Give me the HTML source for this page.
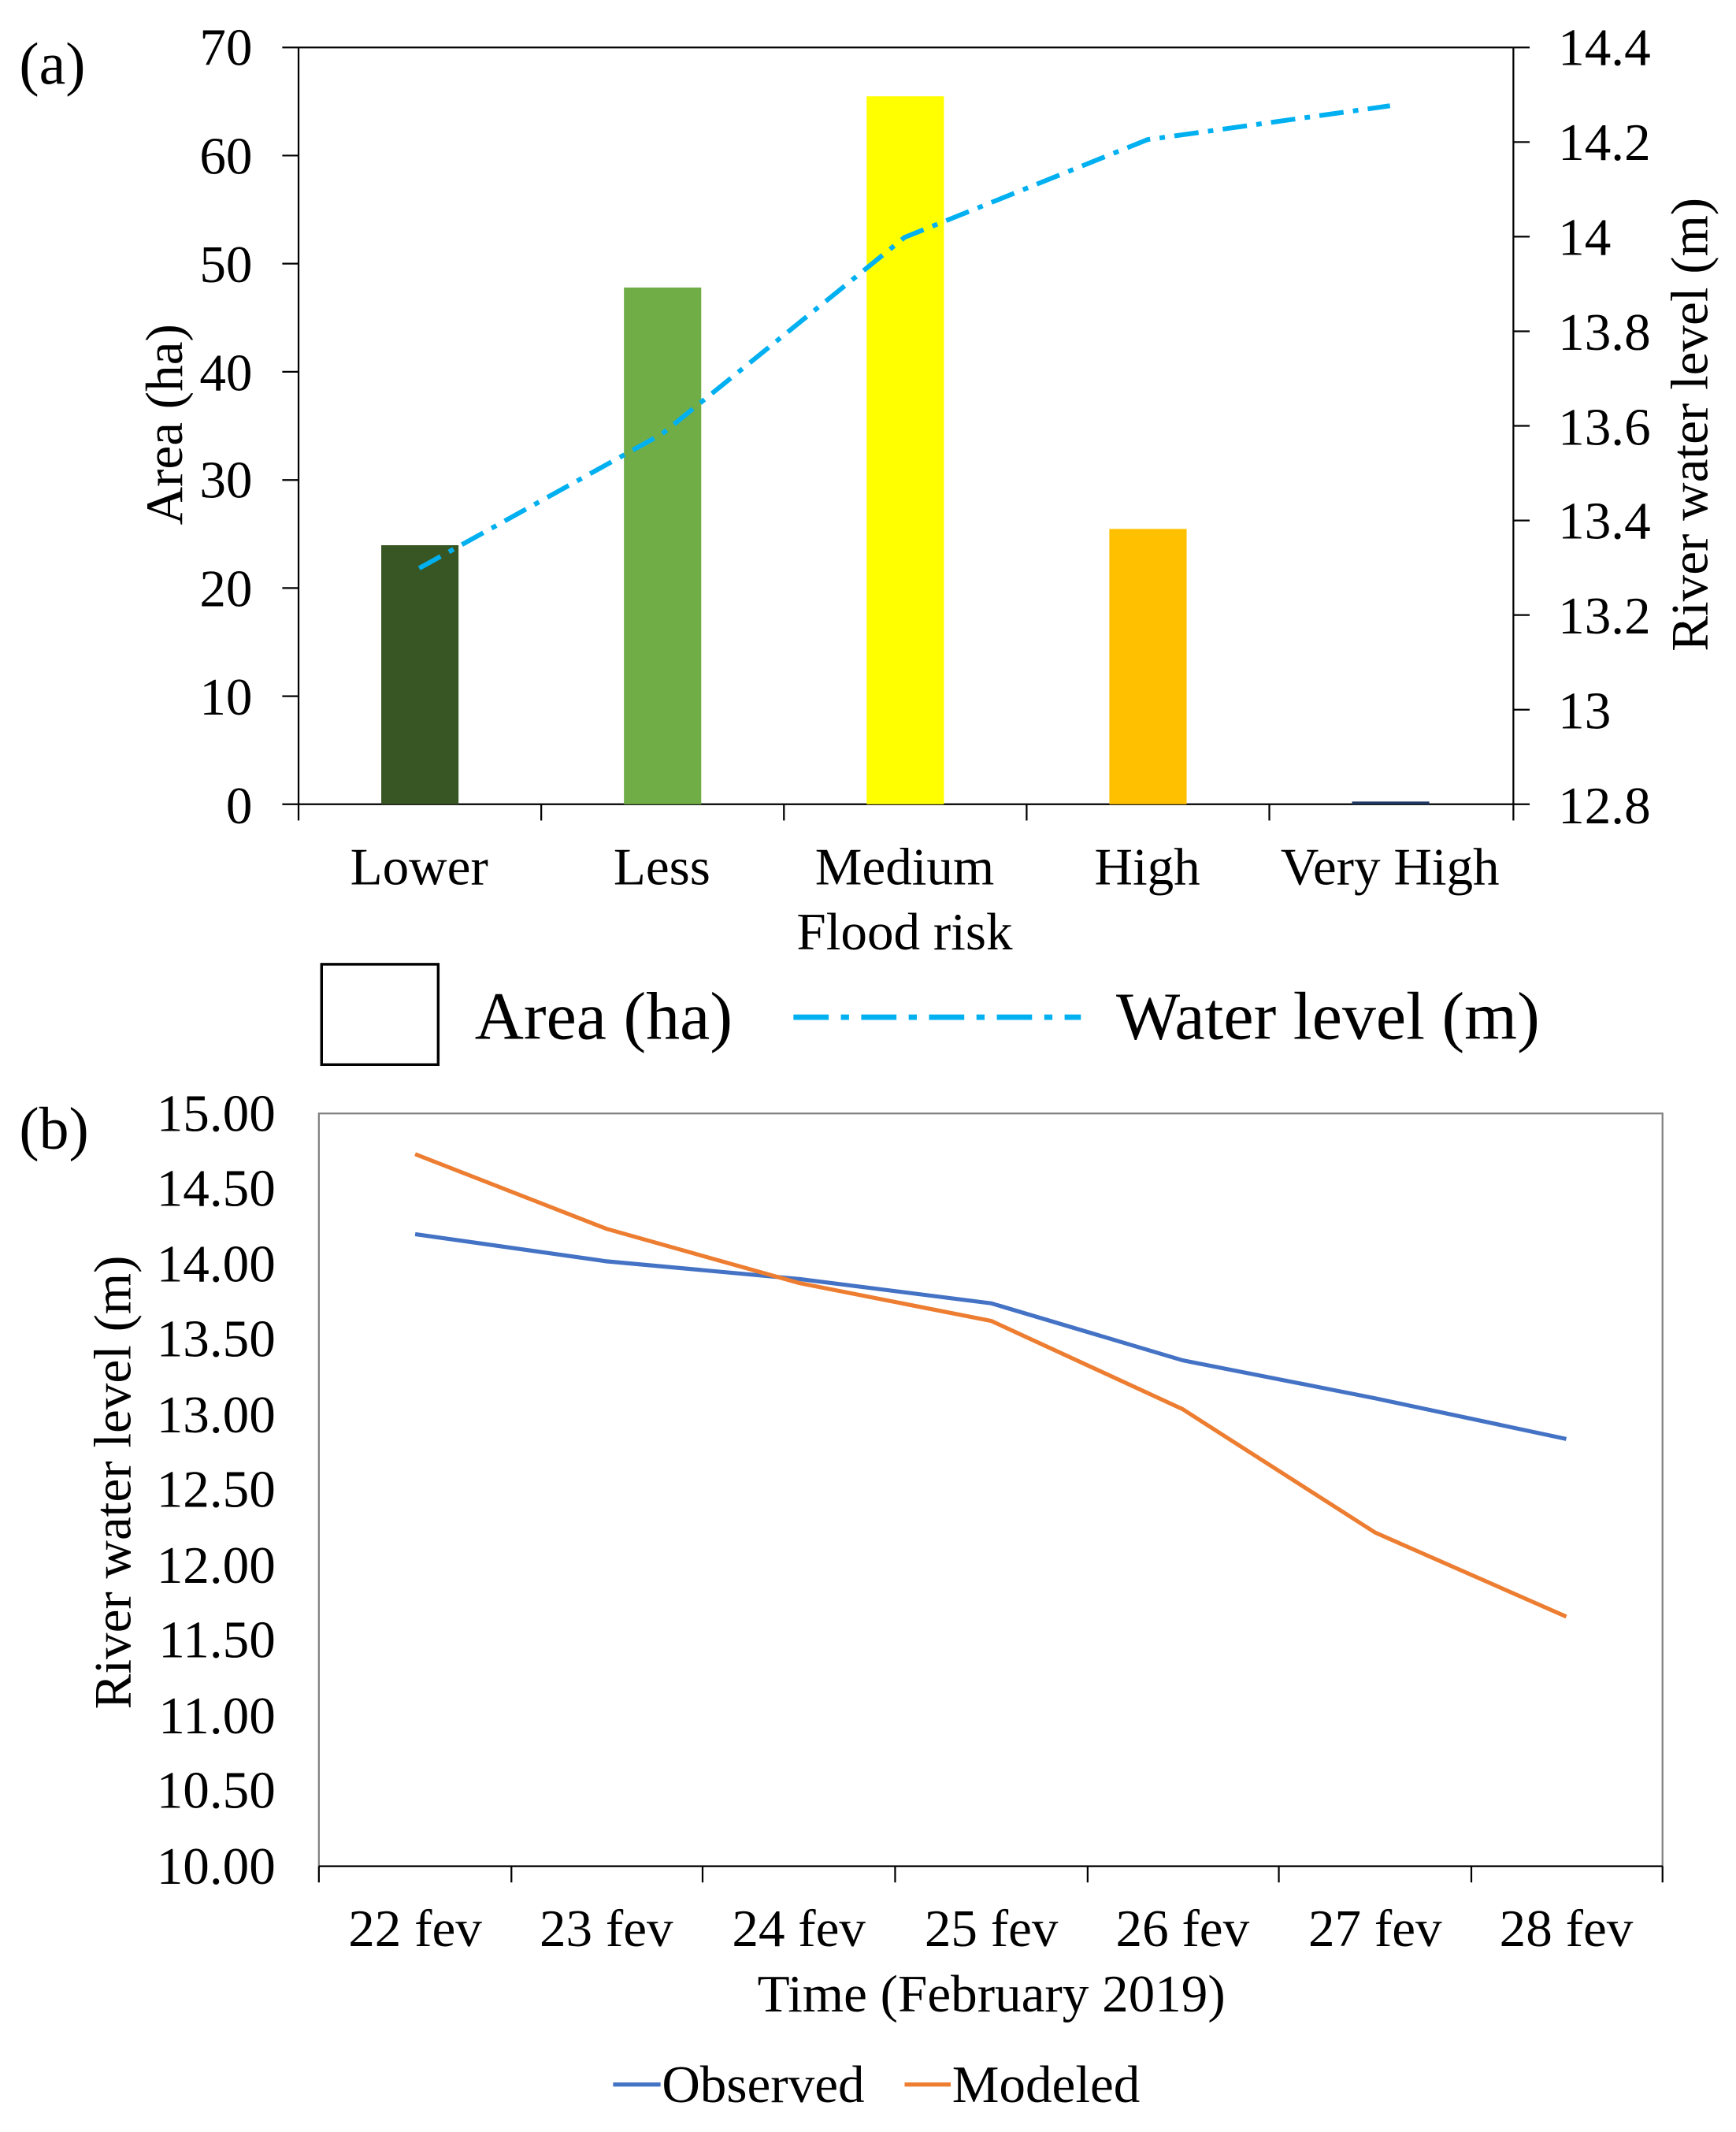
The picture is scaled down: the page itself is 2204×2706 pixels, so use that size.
<!DOCTYPE html>
<html><head><meta charset="utf-8"><style>
html,body{margin:0;padding:0;background:#fff;}
svg{display:block;}
text{font-family:"Liberation Serif",serif;fill:#000;}
</style></head><body>
<svg width="2204" height="2706" viewBox="0 0 1280 1572" xmlns="http://www.w3.org/2000/svg">
<rect width="1280" height="1572" fill="#fff"/>
<!-- Panel a -->
<text x="14" y="62" font-size="44">(a)</text>
<g stroke="#000" stroke-width="1.3" fill="none">
<line x1="220" y1="35" x2="1116" y2="35"/>
<line x1="220" y1="35" x2="220" y2="593"/>
<line x1="1116" y1="35" x2="1116" y2="593"/>
<line x1="208" y1="593" x2="1128" y2="593"/>
<line x1="208" y1="35" x2="220" y2="35"/><line x1="208" y1="114.7" x2="220" y2="114.7"/>
<line x1="208" y1="194.4" x2="220" y2="194.4"/><line x1="208" y1="274.1" x2="220" y2="274.1"/>
<line x1="208" y1="353.9" x2="220" y2="353.9"/><line x1="208" y1="433.6" x2="220" y2="433.6"/>
<line x1="208" y1="513.3" x2="220" y2="513.3"/>
<line x1="1116" y1="35" x2="1128" y2="35"/><line x1="1116" y1="104.75" x2="1128" y2="104.75"/>
<line x1="1116" y1="174.5" x2="1128" y2="174.5"/><line x1="1116" y1="244.25" x2="1128" y2="244.25"/>
<line x1="1116" y1="314" x2="1128" y2="314"/><line x1="1116" y1="383.75" x2="1128" y2="383.75"/>
<line x1="1116" y1="453.5" x2="1128" y2="453.5"/><line x1="1116" y1="523.25" x2="1128" y2="523.25"/>
<line x1="399" y1="593" x2="399" y2="605"/><line x1="578" y1="593" x2="578" y2="605"/>
<line x1="757" y1="593" x2="757" y2="605"/><line x1="936" y1="593" x2="936" y2="605"/>
<line x1="220" y1="593" x2="220" y2="605"/><line x1="1116" y1="593" x2="1116" y2="605"/>
</g>
<g font-size="39" text-anchor="end">
<text x="186" y="48">70</text><text x="186" y="128">60</text><text x="186" y="208">50</text>
<text x="186" y="288">40</text><text x="186" y="367">30</text><text x="186" y="447">20</text>
<text x="186" y="527">10</text><text x="186" y="607">0</text>
</g>
<g font-size="39">
<text x="1149" y="48">14.4</text><text x="1149" y="118">14.2</text><text x="1149" y="188">14</text>
<text x="1149" y="258">13.8</text><text x="1149" y="328">13.6</text><text x="1149" y="397">13.4</text>
<text x="1149" y="467">13.2</text><text x="1149" y="537">13</text><text x="1149" y="607">12.8</text>
</g>
<rect x="281" y="402" width="57" height="191" fill="#375623"/>
<rect x="460" y="212" width="57" height="381" fill="#70ad47"/>
<rect x="639" y="71" width="57" height="522" fill="#ffff00"/>
<rect x="818" y="390" width="57" height="203" fill="#ffc000"/>
<rect x="997" y="591" width="57" height="2" fill="#203864"/>
<polyline points="309,419 488,320 667,175 846,103 1025,78" fill="none" stroke="#00b0f0" stroke-width="3.5" stroke-dasharray="18,7,4,7"/>
<g font-size="39" text-anchor="middle">
<text x="309" y="652">Lower</text><text x="488" y="652">Less</text><text x="667" y="652">Medium</text>
<text x="846" y="652">High</text><text x="1025" y="652">Very High</text>
<text x="667" y="700">Flood risk</text>
<text transform="translate(134,313) rotate(-90)">Area (ha)</text>
<text transform="translate(1259,313) rotate(-90)">River water level (m)</text>
</g>
<rect x="237" y="711" width="86" height="74" fill="none" stroke="#000" stroke-width="2"/>
<text x="350" y="766" font-size="50">Area (ha)</text>
<line x1="585" y1="750" x2="797" y2="750" stroke="#00b0f0" stroke-width="4" stroke-dasharray="26,9,6,9"/>
<text x="823" y="766" font-size="50">Water level (m)</text>
<!-- Panel b -->
<text x="14" y="847" font-size="44">(b)</text>
<rect x="235" y="821" width="991" height="555" fill="none" stroke="#808080" stroke-width="1.3"/>
<line x1="235" y1="1376" x2="1226" y2="1376" stroke="#000" stroke-width="1.3"/>
<g stroke="#000" stroke-width="1.3">
<line x1="235" y1="1376" x2="235" y2="1388"/><line x1="377" y1="1376" x2="377" y2="1388"/>
<line x1="518" y1="1376" x2="518" y2="1388"/><line x1="660" y1="1376" x2="660" y2="1388"/>
<line x1="802" y1="1376" x2="802" y2="1388"/><line x1="943" y1="1376" x2="943" y2="1388"/>
<line x1="1085" y1="1376" x2="1085" y2="1388"/><line x1="1226" y1="1376" x2="1226" y2="1388"/>
</g>
<g font-size="39" text-anchor="end">
<text x="203" y="834">15.00</text><text x="203" y="889">14.50</text><text x="203" y="945">14.00</text>
<text x="203" y="1000">13.50</text><text x="203" y="1056">13.00</text><text x="203" y="1111">12.50</text>
<text x="203" y="1167">12.00</text><text x="203" y="1222">11.50</text><text x="203" y="1278">11.00</text>
<text x="203" y="1333">10.50</text><text x="203" y="1389">10.00</text>
</g>
<polyline points="306,910 447,930 589,943 731,961 872,1003 1014,1031 1155,1061" fill="none" stroke="#4472c4" stroke-width="3"/>
<polyline points="306,851 447,906 589,946 731,974 872,1039 1014,1130 1155,1192" fill="none" stroke="#ed7d31" stroke-width="3"/>
<g font-size="39" text-anchor="middle">
<text x="306" y="1435">22 fev</text><text x="447" y="1435">23 fev</text><text x="589" y="1435">24 fev</text>
<text x="731" y="1435">25 fev</text><text x="872" y="1435">26 fev</text><text x="1014" y="1435">27 fev</text>
<text x="1155" y="1435">28 fev</text>
<text x="731" y="1483">Time (February 2019)</text>
<text transform="translate(96,1093) rotate(-90)">River water level (m)</text>
</g>
<line x1="452" y1="1537" x2="487" y2="1537" stroke="#4472c4" stroke-width="3"/>
<text x="488" y="1550" font-size="39">Observed</text>
<line x1="667" y1="1537" x2="701" y2="1537" stroke="#ed7d31" stroke-width="3"/>
<text x="702" y="1550" font-size="39">Modeled</text>
</svg>
</body></html>
